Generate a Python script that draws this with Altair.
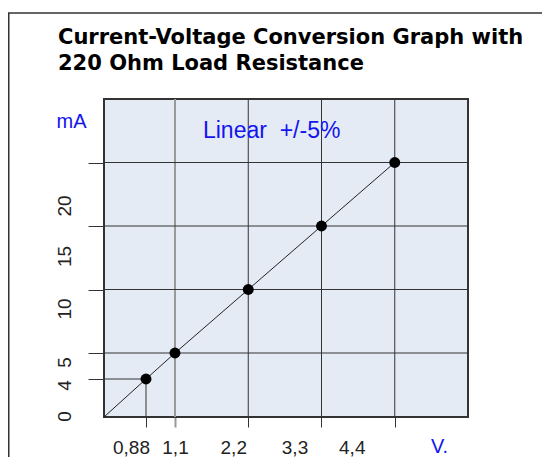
import altair as alt
import pandas as pd

# ---- data ----
voltage = [0.88, 1.1, 2.2, 3.3, 4.4]
current = [4, 5, 10, 15, 20]
line_v = [0, 0.88, 1.1, 2.2, 3.3, 4.4]
line_i = [0, 4, 5, 10, 15, 20]
x_ticks = [0.88, 1.1, 2.2, 3.3, 4.4]
x_tick_labels = ["0,88", "1,1", "2,2", "3,3", "4,4"]
x_grid = [1.1, 2.2, 3.3, 4.4]
y_ticks = [0, 4, 5, 10, 15, 20]
y_tick_labels = ["0", "4", "5", "10", "15", "20"]
y_grid = [5, 10, 15, 20]
x_max = 5.5
y_max = 25
note_text = ["Linear \u00a0+/-5%"]
note_v = [1.52]
note_i = [22.5]

BLUE = "#1414F0"
GRID = "#333333"
W, H = 534, 449          # whole drawing
L, T, PW, PH = 96, 91, 364, 318   # plot box inside it

pts = pd.DataFrame({"V": voltage, "mA": current})
line_df = pd.DataFrame({"V": line_v, "mA": line_i})
note_df = pd.DataFrame({"V": note_v, "mA": note_i, "t": note_text})
drop_df = pd.DataFrame({"V": [voltage[0]], "mA": [current[0]], "z": [0]})
xg_df = pd.DataFrame({"V": x_grid, "I0": 0, "I1": y_max})
yg_df = pd.DataFrame({"mA": y_grid, "V0": 0, "V1": x_max})
bg_df = pd.DataFrame({"V0": [0], "V1": [x_max], "I0": [0], "I1": [y_max]})
frame_df = pd.DataFrame({"k": [0]})


def label_expr(vals, labels):
    e = "''"
    for v, l in reversed(list(zip(vals, labels))):
        e = f"datum.value == {v} ? '{l}' : ({e})"
    return e


def cond(pairs, default):
    return {"condition": [{"test": f"datum.value == {v}", "value": o} for v, o in pairs],
            "value": default}


xscale = alt.Scale(domain=[0, 0.88, 1.1, x_max], range=[L, L + 42, L + 71, L + PW],
                   nice=False, zero=False)
yscale = alt.Scale(domain=[0, 4, 5, y_max], range=[T + PH, T + 280, T + 254, T],
                   nice=False, zero=False)

xaxis = alt.Axis(
    values=x_ticks,
    labelExpr=label_expr(x_ticks, x_tick_labels),
    domain=False,
    grid=False,
    offset=-(H - T - PH),
    tickSize=10,
    tickColor=cond([(1.1, "#999999")], GRID),
    tickWidth=cond([(1.1, 2)], 1),
    labelOffset=cond([(0.88, -15), (2.2, -15), (3.3, -27), (4.4, -43)], 0),
    labelFont="Liberation Sans",
    labelFontSize=19,
    labelColor="#222222",
    labelPadding=11,
    labelBaseline="top",
    title="V.",
    titleColor=BLUE,
    titleFont="Liberation Sans",
    titleFontSize=20,
    titleFontWeight="normal",
    titleAngle=0,
    titleAlign="center",
    titleBaseline="middle",
    titleX=L + 335,
    titleY=29,
)

yaxis = alt.Axis(
    values=y_ticks,
    labelExpr=label_expr(y_ticks, y_tick_labels),
    domain=False,
    grid=False,
    offset=-L,
    tickSize=16,
    tickColor=GRID,
    tickOpacity=cond([(0, 0)], 1),
    labelAngle=-90,
    labelAlign="center",
    labelBaseline="middle",
    labelPadding=24,
    labelOffset=cond([(0, -1), (4, 6), (5, 9), (10, 19), (15, 30), (20, 43)], 0),
    labelFont="Liberation Sans",
    labelFontSize=19,
    labelColor="#222222",
    title="mA",
    titleColor=BLUE,
    titleFont="Liberation Sans",
    titleFontSize=20,
    titleFontWeight="normal",
    titleAngle=0,
    titleAlign="center",
    titleBaseline="middle",
    titleX=-33,
    titleY=T + 22,
)

frame = alt.Chart(frame_df).mark_rect(
    fill="transparent", stroke="#333333", strokeWidth=1.5
).encode(x=alt.value(0.75), x2=alt.value(W + 50), y=alt.value(5), y2=alt.value(H + 50))

bg = alt.Chart(bg_df).mark_rect(fill="#E4EBF4", stroke="#333333", strokeWidth=2).encode(
    x=alt.X("V0:Q", scale=xscale, axis=xaxis),
    x2="V1:Q",
    y=alt.Y("I0:Q", scale=yscale, axis=yaxis),
    y2="I1:Q",
)

vgrid_dark = alt.Chart(xg_df).transform_filter("datum.V != 1.1").mark_rule(
    color=GRID, strokeWidth=1).encode(x="V:Q", y="I0:Q", y2="I1:Q")
vgrid_gray = alt.Chart(xg_df).transform_filter("datum.V == 1.1").mark_rule(
    color="#999999", strokeWidth=2).encode(x="V:Q", y="I0:Q", y2="I1:Q")
hgrid = alt.Chart(yg_df).mark_rule(color=GRID, strokeWidth=1).encode(
    y="mA:Q", x="V0:Q", x2="V1:Q")

line = alt.Chart(line_df).mark_line(color="#222222", strokeWidth=1).encode(
    x="V:Q", y="mA:Q", order="V:Q")

drop_v = alt.Chart(drop_df).mark_rule(color=GRID, strokeWidth=1).encode(
    x="V:Q", y="mA:Q", y2="z:Q")
drop_h = alt.Chart(drop_df).mark_rule(color=GRID, strokeWidth=1).encode(
    y="mA:Q", x="z:Q", x2="V:Q")

points = alt.Chart(pts).mark_circle(color="black", opacity=1, size=120).encode(
    x="V:Q", y="mA:Q")

note = alt.Chart(note_df).mark_text(
    color=BLUE, font="Liberation Sans", fontSize=23, align="left", baseline="middle"
).encode(x="V:Q", y="mA:Q", text="t:N")

chart = alt.layer(frame, bg, vgrid_gray, vgrid_dark, hgrid, line, drop_v, drop_h,
                  points, note).properties(
    width=W,
    height=H,
    autosize=alt.AutoSizeParams(type="none"),
    padding=0,
    title=alt.TitleParams(
        text=["Current-Voltage Conversion Graph with", "220 Ohm Load Resistance"],
        font="DejaVu Sans",
        fontSize=21,
        fontWeight="bold",
        color="black",
        anchor="start",
        frame="group",
        dx=50,
        dy=66,
        offset=0,
        lineHeight=26,
    ),
).configure_view(stroke=None)

chart.save("out.html", embed_options={"renderer": "svg", "actions": False})
